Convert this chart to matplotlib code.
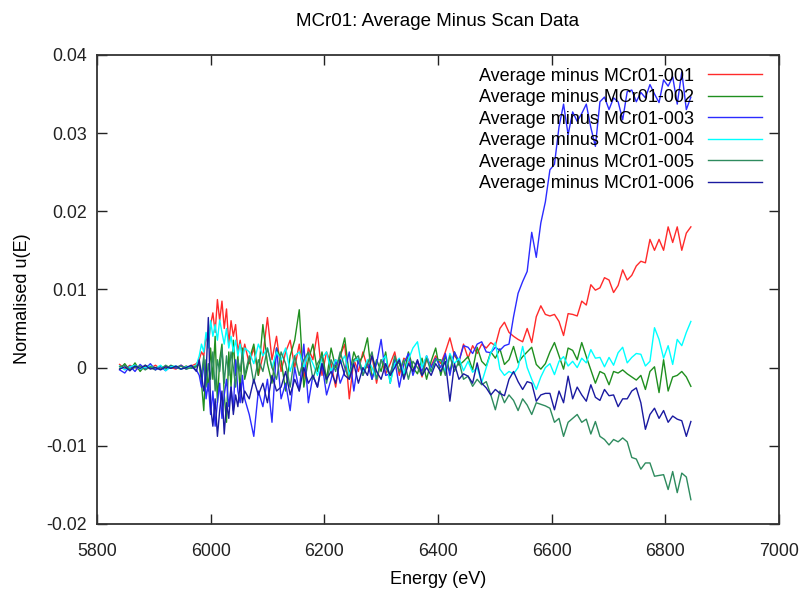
import matplotlib
matplotlib.use("Agg")
import matplotlib.pyplot as plt

plt.rcParams['font.family'] = ['Liberation Sans', 'DejaVu Sans']

# energy grid (eV), shared by all six scans
energy = [5840, 5849, 5858, 5867, 5876, 5885, 5894, 5903, 5912, 5921, 5930, 5939, 5948, 5957, 5966, 5975,
          5980, 5984, 5988, 5992, 5996, 6000, 6004, 6008, 6012, 6016, 6020, 6024, 6028, 6032, 6036, 6040,
          6044, 6048, 6052, 6056, 6060,
          6068, 6076, 6084, 6092, 6100, 6108, 6116, 6124, 6132, 6140, 6148, 6156, 6164, 6172, 6180, 6188,
          6196, 6204, 6212, 6220, 6228, 6236, 6244, 6252, 6260, 6268, 6276, 6284, 6292, 6300, 6308, 6316,
          6324, 6332, 6340, 6348, 6356, 6364, 6372, 6380, 6388, 6396,
          6405, 6413, 6421, 6429, 6437, 6445, 6453, 6461,
          6469, 6477, 6485, 6493, 6501, 6509, 6517, 6525,
          6533, 6541, 6549, 6557, 6565, 6573, 6581, 6589,
          6597, 6605, 6613, 6621, 6629, 6637, 6645, 6653,
          6661, 6669, 6677, 6685, 6693, 6701, 6709, 6717,
          6725, 6733, 6741, 6749, 6757, 6765, 6773, 6781,
          6789, 6797, 6805, 6813, 6821, 6829, 6837, 6845]

scan_001 = [0.0004, -0.0002, 0.0003, 0.0000, -0.0003, 0.0002, -0.0001, 0.0003, -0.0002, 0.0001, 0.0000, -0.0002,
            0.0003, -0.0001, 0.0002, 0.0005,
            0.0010, 0.0020, 0.0015, 0.0040, 0.0030, 0.0055, 0.0070, 0.0045, 0.0087, 0.0060, 0.0085, 0.0050,
            0.0075, 0.0030, 0.0060, 0.0040, 0.0055, 0.0020, 0.0035, 0.0015, 0.0030,
            0.0005, 0.0025, -0.0010, 0.0015, 0.0064, 0.0010, 0.0040, -0.0005, 0.0020, 0.0035,
            0.0000, 0.0030, -0.0015, 0.0025, 0.0010, 0.0045, -0.0010, 0.0020, 0.0005, -0.0025,
            0.0015, 0.0030, -0.0040, 0.0010, -0.0005, 0.0020, 0.0000, 0.0015, -0.0020, 0.0010,
            -0.0008, 0.0005, 0.0020, -0.0010, 0.0012, 0.0008, -0.0005, 0.0008, -0.0012, 0.0010,
            0.0002, 0.0015,
            0.0005, 0.0020, 0.0038, 0.0015, 0.0008, 0.0030, 0.0012, 0.0028,
            0.0018, 0.0030, 0.0025, 0.0032, 0.0028, 0.0050, 0.0058, 0.0045,
            0.0040, 0.0036, 0.0033, 0.0050, 0.0032, 0.0065, 0.0079, 0.0068,
            0.0066, 0.0068, 0.0059, 0.0041, 0.0069, 0.0068, 0.0066, 0.0085,
            0.0080, 0.0106, 0.0099, 0.0102, 0.0115, 0.0112, 0.0096, 0.0105,
            0.0125, 0.0112, 0.0118, 0.0130, 0.0136, 0.0134, 0.0164, 0.0150,
            0.0164, 0.0150, 0.0180, 0.0160, 0.0180, 0.0150, 0.0172, 0.0180]

scan_002 = [-0.0002, 0.0005, -0.0004, 0.0006, -0.0005, 0.0003, 0.0000, -0.0003, 0.0002, -0.0002, 0.0003, 0.0000,
            -0.0002, 0.0002, -0.0001, 0.0001,
            0.0005, -0.0020, -0.0055, 0.0010, -0.0030, 0.0025, -0.0015, 0.0040, -0.0045, 0.0010, 0.0030, -0.0035,
            -0.0070, 0.0020, -0.0025, 0.0035, -0.0010, 0.0015, -0.0030, 0.0025, -0.0015,
            0.0010, 0.0030, -0.0010, 0.0055, 0.0005, -0.0020, 0.0025, 0.0010, -0.0030, 0.0015,
            0.0035, 0.0074, -0.0025, 0.0010, 0.0030, -0.0005, 0.0020, -0.0015, 0.0025, 0.0000,
            0.0015, 0.0038, -0.0010, 0.0020, 0.0005, 0.0015, 0.0038, -0.0015, 0.0010, -0.0005,
            0.0020, -0.0020, 0.0010, 0.0005, -0.0012, 0.0020, 0.0000, -0.0008, 0.0012, -0.0015,
            0.0008, 0.0025,
            -0.0010, 0.0015, -0.0005, 0.0020, 0.0003, 0.0008, 0.0014, -0.0003,
            0.0026, 0.0008, 0.0002, 0.0020, 0.0012, 0.0024, 0.0004, 0.0010,
            0.0027, 0.0006, 0.0014, 0.0020, 0.0026, 0.0004, -0.0002, 0.0005,
            0.0020, 0.0032, 0.0015, -0.0002, 0.0025, 0.0022, 0.0010, 0.0032,
            0.0014, -0.0003, -0.0020, -0.0005, -0.0008, -0.0022, -0.0005, -0.0007,
            -0.0003, -0.0008, -0.0012, -0.0016, -0.0010, -0.0028, -0.0005, 0.0001,
            -0.0032, 0.0010, -0.0030, -0.0012, -0.0010, -0.0005, -0.0012, -0.0024]

scan_003 = [-0.0003, -0.0007, 0.0002, -0.0005, 0.0004, -0.0002, 0.0005, -0.0003, 0.0001, -0.0004, 0.0002, -0.0001,
            0.0003, -0.0002, 0.0001, -0.0003,
            -0.0010, -0.0025, 0.0010, -0.0040, -0.0020, -0.0060, -0.0030, -0.0075, -0.0045, -0.0020, -0.0065,
            -0.0035, -0.0015, -0.0050, -0.0025, -0.0055, 0.0010, -0.0030, -0.0045, -0.0010, -0.0040,
            -0.0060, -0.0088, -0.0030, -0.0050, -0.0015, -0.0070, 0.0025, -0.0040, -0.0020, -0.0055,
            0.0000, -0.0030, 0.0030, -0.0045, -0.0010, -0.0025, 0.0005, -0.0035, -0.0015, 0.0010,
            -0.0020, -0.0005, 0.0020, -0.0030, 0.0010, -0.0010, 0.0005, -0.0015, 0.0005, 0.0036,
            -0.0010, -0.0008, 0.0010, -0.0025, 0.0005, 0.0018, -0.0010, 0.0008, -0.0005, 0.0015,
            0.0000, 0.0012,
            0.0000, 0.0018, -0.0010, 0.0020, 0.0008, 0.0028, 0.0026, 0.0018,
            0.0030, 0.0033, 0.0020, 0.0019, 0.0026, 0.0022, 0.0028, 0.0030,
            0.0065, 0.0095, 0.0110, 0.0123, 0.0173, 0.0141, 0.0185, 0.0212,
            0.0253, 0.0260, 0.0308, 0.0337, 0.0298, 0.0327, 0.0315, 0.0325,
            0.0337, 0.0307, 0.0283, 0.0340, 0.0346, 0.0330, 0.0345, 0.0340,
            0.0317, 0.0353, 0.0355, 0.0340, 0.0352, 0.0345, 0.0362, 0.0350,
            0.0339, 0.0368, 0.0360, 0.0372, 0.0337, 0.0378, 0.0330, 0.0346]

scan_004 = [0.0002, -0.0003, 0.0001, 0.0003, -0.0002, 0.0000, 0.0002, -0.0001, 0.0003, -0.0004, 0.0001, 0.0002,
            -0.0002, 0.0001, 0.0000, 0.0003,
            0.0015, 0.0030, 0.0020, 0.0045, 0.0025, 0.0060, 0.0040, 0.0055, 0.0035, 0.0061, 0.0045, 0.0030,
            0.0050, 0.0025, 0.0040, 0.0020, 0.0035, 0.0015, 0.0030, 0.0010, 0.0025,
            0.0020, 0.0005, 0.0030, 0.0015, 0.0025, 0.0000, 0.0020, 0.0010, 0.0025, -0.0005,
            0.0015, 0.0020, 0.0000, 0.0018, 0.0005, -0.0010, 0.0012, 0.0020, -0.0005, 0.0010,
            0.0005, 0.0015, -0.0010, 0.0008, 0.0012, -0.0005, 0.0010, 0.0000, -0.0015, 0.0008,
            0.0015, -0.0020, 0.0005, 0.0012, -0.0008, 0.0010, 0.0025, 0.0033, 0.0000, 0.0015,
            -0.0005, 0.0010,
            0.0010, -0.0005, 0.0018, 0.0005, 0.0012, -0.0004, 0.0008, -0.0006,
            0.0000, -0.0019, 0.0000, 0.0019, 0.0032, -0.0002, -0.0010, -0.0005,
            -0.0008, 0.0000, 0.0027, 0.0000, -0.0015, -0.0028, -0.0012, 0.0000,
            0.0005, -0.0009, 0.0008, 0.0014, 0.0002, 0.0008, 0.0000, 0.0012,
            0.0006, 0.0023, 0.0012, 0.0013, 0.0001, 0.0013, 0.0003, 0.0019,
            0.0026, 0.0006, 0.0013, 0.0018, 0.0017, 0.0002, 0.0008, 0.0051,
            0.0036, 0.0012, 0.0028, 0.0004, 0.0036, 0.0028, 0.0045, 0.0059]

scan_005 = [0.0001, 0.0003, -0.0002, 0.0000, 0.0002, -0.0003, 0.0001, 0.0000, -0.0002, 0.0003, -0.0001, 0.0001,
            0.0002, -0.0002, 0.0000, 0.0002,
            0.0005, -0.0010, 0.0015, -0.0025, 0.0005, -0.0015, 0.0020, -0.0030, 0.0010, -0.0005, 0.0025, -0.0020,
            0.0015, -0.0010, 0.0020, 0.0000, -0.0025, 0.0010, -0.0005, 0.0020, -0.0010,
            0.0015, -0.0020, 0.0010, -0.0005, 0.0025, 0.0000, -0.0015, 0.0020, 0.0005, -0.0025,
            0.0015, -0.0010, 0.0010, 0.0020, -0.0015, 0.0005, 0.0015, -0.0020, 0.0010, -0.0005,
            0.0020, 0.0000, -0.0015, 0.0010, 0.0015, -0.0010, 0.0005, 0.0020, -0.0015, 0.0010,
            0.0000, -0.0010, 0.0015, -0.0005, 0.0010, -0.0015, 0.0008, 0.0000, -0.0010, 0.0012,
            -0.0005, 0.0010,
            0.0010, -0.0010, 0.0015, -0.0005, 0.0008, -0.0015, -0.0011, -0.0024,
            -0.0015, -0.0022, -0.0018, -0.0035, -0.0054, -0.0030, -0.0045, -0.0035,
            -0.0042, -0.0055, -0.0040, -0.0048, -0.0060, -0.0045, -0.0047, -0.0049,
            -0.0052, -0.0070, -0.0065, -0.0088, -0.0070, -0.0065, -0.0060, -0.0070,
            -0.0066, -0.0085, -0.0069, -0.0088, -0.0092, -0.0099, -0.0092, -0.0095,
            -0.0090, -0.0095, -0.0115, -0.0117, -0.0130, -0.0122, -0.0122, -0.0139,
            -0.0138, -0.0137, -0.0156, -0.0133, -0.0160, -0.0135, -0.0140, -0.0169]

scan_006 = [-0.0002, 0.0001, -0.0004, 0.0002, -0.0001, 0.0003, -0.0002, 0.0000, -0.0003, 0.0001, -0.0001, 0.0002,
            -0.0002, 0.0000, 0.0003, -0.0005,
            0.0010, -0.0010, -0.0030, -0.0010, 0.0064, -0.0050, -0.0075, -0.0040, -0.0088, -0.0055, -0.0030,
            -0.0085, -0.0045, -0.0065, -0.0025, -0.0060, -0.0035, -0.0050, -0.0020, -0.0045, -0.0030,
            -0.0040, -0.0015, -0.0035, -0.0020, -0.0045, -0.0010, -0.0030, -0.0025, -0.0005, -0.0035,
            -0.0015, -0.0030, 0.0000, -0.0020, -0.0010, -0.0025, 0.0005, -0.0015, -0.0005, -0.0020,
            0.0010, -0.0010, -0.0015, 0.0005, -0.0020, 0.0000, -0.0010, 0.0015, -0.0005, -0.0015,
            0.0005, -0.0010, 0.0000, 0.0010, -0.0015, 0.0005, -0.0005, 0.0010, -0.0010, 0.0000,
            -0.0010, 0.0005,
            -0.0005, 0.0008, -0.0043, 0.0005, -0.0015, -0.0008, -0.0011, -0.0020,
            0.0006, -0.0020, -0.0026, -0.0035, -0.0028, -0.0033, -0.0036, -0.0015,
            -0.0005, -0.0018, -0.0028, -0.0018, -0.0020, -0.0043, -0.0035, -0.0033,
            -0.0033, -0.0054, -0.0030, -0.0045, -0.0011, -0.0040, -0.0025, -0.0035,
            -0.0043, -0.0022, -0.0038, -0.0042, -0.0028, -0.0036, -0.0035, -0.0050,
            -0.0040, -0.0040, -0.0030, -0.0026, -0.0045, -0.0079, -0.0060, -0.0052,
            -0.0065, -0.0055, -0.0070, -0.0062, -0.0066, -0.0068, -0.0088, -0.0069]

labels = ["Average minus MCr01-001", "Average minus MCr01-002", "Average minus MCr01-003",
          "Average minus MCr01-004", "Average minus MCr01-005", "Average minus MCr01-006"]
colors = ["#ff2a2a", "#1f8f1f", "#2b2bff", "#00ffff", "#2e8b5e", "#1a1aa0"]

y_ticks = [-0.02, -0.01, 0, 0.01, 0.02, 0.03, 0.04]
y_tick_labels = ["-0.02", "-0.01", "0", "0.01", "0.02", "0.03", "0.04"]
x_ticks = [5800, 6000, 6200, 6400, 6600, 6800, 7000]

fig = plt.figure(figsize=(8.01, 5.90), dpi=100)
ax = fig.add_axes([0.121, 0.112, 0.8515, 0.795])

for scan, lab, col in zip([scan_001, scan_002, scan_003, scan_004, scan_005, scan_006], labels, colors):
    ax.plot(energy, scan, color=col, lw=1.0, label=lab)

ax.set_xlim(5800, 7000)
ax.set_ylim(-0.02, 0.04)
ax.set_xticks(x_ticks)
ax.set_xticklabels([str(t) for t in x_ticks])
ax.set_yticks(y_ticks)
ax.set_yticklabels(y_tick_labels)
ax.tick_params(direction='in', length=7, width=1, top=True, right=True, labelsize=12.8,
               colors='#222222')
ax.tick_params(axis='x', pad=14)
ax.tick_params(axis='y', pad=7.5)
for sp in ax.spines.values():
    sp.set_color('#333333')
    sp.set_linewidth(1.3)

ax.set_title("MCr01: Average Minus Scan Data", fontsize=13.5, pad=21)
ax.set_xlabel("Energy (eV)", fontsize=13, labelpad=8)
ax.set_ylabel("Normalised u(E)", fontsize=13)
ax.yaxis.set_label_coords(-0.097, 0.48)

ax.legend(loc='upper right', bbox_to_anchor=(0.975, 0.973), frameon=False, markerfirst=False,
          handlelength=3.0, handletextpad=0.75, fontsize=13.0, labelspacing=0.25, borderaxespad=0,
          borderpad=0)

fig.savefig("out.png", dpi=100)
